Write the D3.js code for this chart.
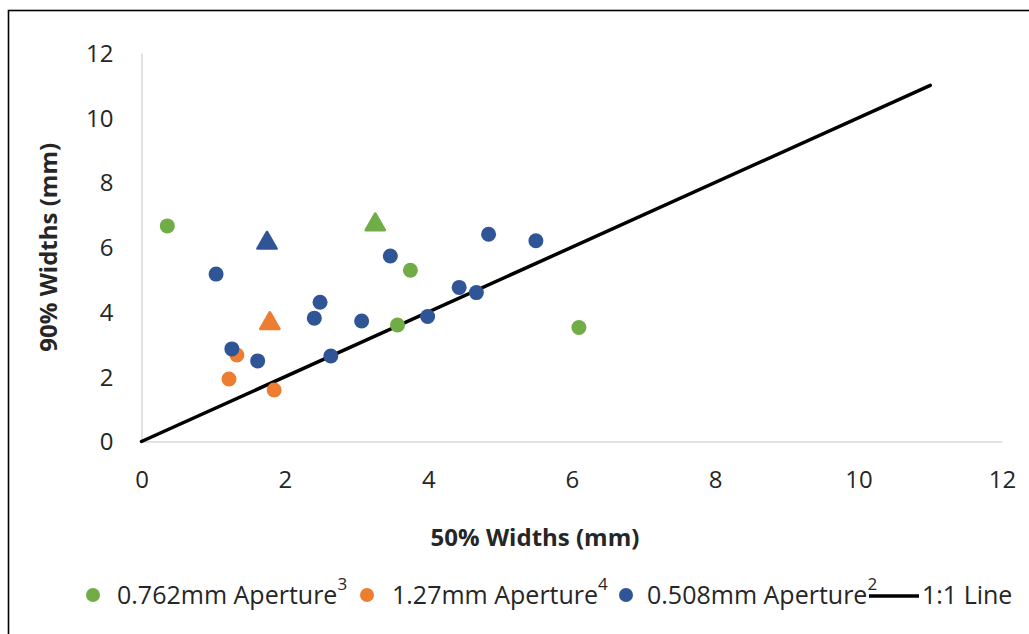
<!DOCTYPE html>
<html><head><meta charset="utf-8">
<script src="https://cdn.jsdelivr.net/npm/d3@7"></script>
<style>body{margin:0;background:#fff}svg{display:block}text{font-family:"Open Sans",sans-serif;fill:#262626}</style>
</head><body>
<script>
// Data
const green762X = [0.36, 3.75, 3.57, 6.10];
const green762Y = [6.66, 5.29, 3.60, 3.52];
const green762TriX = [3.26];
const green762TriY = [6.70];
const orange127X = [1.33, 1.22, 1.85];
const orange127Y = [2.67, 1.93, 1.59];
const orange127TriX = [1.79];
const orange127TriY = [3.65];
const blue508X = [1.04, 1.26, 1.62, 2.41, 2.49, 2.64, 3.07, 3.47, 3.99, 4.43, 4.67, 4.84, 5.50];
const blue508Y = [5.17, 2.86, 2.49, 3.81, 4.30, 2.64, 3.72, 5.73, 3.86, 4.76, 4.60, 6.40, 6.20];
const blue508TriX = [1.75];
const blue508TriY = [6.13];
const lineX = [0, 11];
const lineY = [0, 11];
const xTicks = [0, 2, 4, 6, 8, 10, 12];
const yTicks = [0, 2, 4, 6, 8, 10, 12];
const legendLabels = ["0.762mm Aperture", "1.27mm Aperture", "0.508mm Aperture", "1:1 Line"];
const legendSups = ["3", "4", "2", ""];

const colors = {green: "#70ad47", orange: "#ed7d31", blue: "#2f5597"};

const W = 1029, H = 634;
const svg = d3.select("body").append("svg").attr("width", W).attr("height", H);
svg.append("rect").attr("x", 8.5).attr("y", 10.5).attr("width", 1060).attr("height", 660)
  .attr("fill", "#fff").attr("stroke", "#000").attr("stroke-width", 1.6);

const x = d3.scaleLinear().domain([0, 12]).range([141.5, 1002]);
const y = d3.scaleLinear().domain([0, 12]).range([441.5, 53]);

// axes
const xAxis = svg.append("g").attr("transform", `translate(0,${y(0)})`)
  .call(d3.axisBottom(x).tickValues(xTicks).tickSize(0));
const yAxis = svg.append("g").attr("transform", `translate(${x(0)},0)`)
  .call(d3.axisLeft(y).tickValues(yTicks).tickSize(0).tickPadding(28));
[xAxis, yAxis].forEach(g => {
  g.select(".domain").attr("stroke", "#d9d9d9").attr("stroke-width", 1.5);
  g.selectAll("text").attr("font-size", 24).attr("fill", "#262626").attr("font-family", "Open Sans");
});
xAxis.selectAll("text").attr("dy", 0).attr("y", 46);
yAxis.selectAll("text").attr("dy", "0.35em");

// axis titles
svg.append("text").attr("x", 535).attr("y", 546).attr("text-anchor", "middle")
  .attr("font-size", 24).attr("font-weight", "bold").text("50% Widths (mm)");
svg.append("text").attr("transform", `translate(57,${(y(0)+y(12))/2}) rotate(-90)`)
  .attr("text-anchor", "middle").attr("font-size", 24).attr("font-weight", "bold").text("90% Widths (mm)");

// 1:1 line
svg.append("path").datum(lineX.map((v, i) => [v, lineY[i]]))
  .attr("d", d3.line().x(d => x(d[0])).y(d => y(d[1])))
  .attr("stroke", "#000").attr("stroke-width", 3.5).attr("fill", "none").attr("stroke-linecap", "round");

function circles(xs, ys, c) {
  svg.append("g").selectAll("circle").data(xs.map((v, i) => [v, ys[i]])).join("circle")
    .attr("cx", d => x(d[0])).attr("cy", d => y(d[1])).attr("r", 7.5).attr("fill", c);
}
const tri = d3.symbol().type(d3.symbolTriangle).size(160);
function triangles(xs, ys, c) {
  svg.append("g").selectAll("path").data(xs.map((v, i) => [v, ys[i]])).join("path")
    .attr("d", tri).attr("transform", d => `translate(${x(d[0])},${y(d[1])})`)
    .attr("fill", c).attr("stroke", c).attr("stroke-width", 2.5).attr("stroke-linejoin", "round");
}
circles(green762X, green762Y, colors.green);
triangles(green762TriX, green762TriY, colors.green);
circles(orange127X, orange127Y, colors.orange);
triangles(orange127TriX, orange127TriY, colors.orange);
circles(blue508X, blue508Y, colors.blue);
triangles(blue508TriX, blue508TriY, colors.blue);

// legend
const ly = 595;
const legItems = [
  {type: "dot", c: colors.green, mx: 93, tx: 117},
  {type: "dot", c: colors.orange, mx: 367, tx: 392},
  {type: "dot", c: colors.blue, mx: 626, tx: 647},
  {type: "line", c: "#000", mx: 869, tx: 922}
];
legItems.forEach((it, i) => {
  if (it.type === "dot") {
    svg.append("circle").attr("cx", it.mx).attr("cy", ly).attr("r", 7).attr("fill", it.c);
  } else {
    svg.append("line").attr("x1", it.mx).attr("x2", it.mx + 50).attr("y1", ly + 1).attr("y2", ly + 1)
      .attr("stroke", "#000").attr("stroke-width", 3.5);
  }
  const t = svg.append("text").attr("x", it.tx).attr("y", ly + 9).attr("font-size", 25);
  t.append("tspan").text(legendLabels[i]);
  if (legendSups[i]) t.append("tspan").attr("dy", -14).attr("font-size", 17).text(legendSups[i]);
});
</script>
</body></html>
